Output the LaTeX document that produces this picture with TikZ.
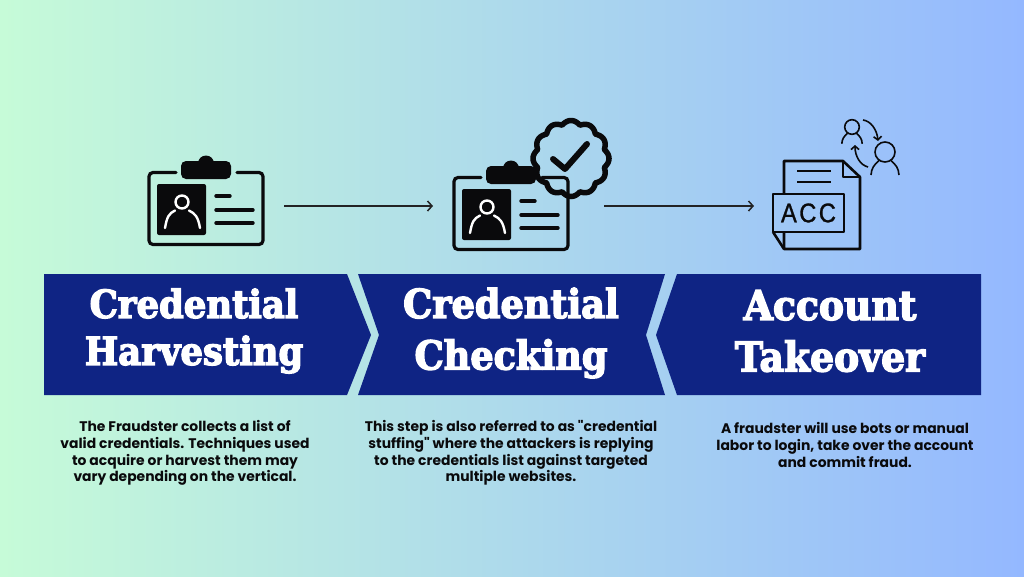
\documentclass[tikz,border=0pt]{standalone}
\usepackage{fontspec}
\setmainfont{Poppins}[Ligatures=TeXOff]
\newfontfamily\headfont{DejaVu Serif}[BoldFeatures={FakeBold=3.5,FakeStretch=0.92}]
\newfontfamily\accfont{Liberation Sans}[FakeStretch=0.88,LetterSpace=9,FakeBold=1]
\usetikzlibrary{arrows.meta}
\definecolor{bgleft}{RGB}{198,251,216}
\definecolor{bgmid}{RGB}{176,222,230}
\definecolor{bgright}{RGB}{148,184,255}
\definecolor{bannerblue}{RGB}{15,36,132}
\definecolor{inkblack}{RGB}{10,10,12}
\tikzset{
	banner/.style={fill=bannerblue,draw=none},
	headtext/.style={text=white,align=center,font=\headfont\bfseries\fontsize{#1}{47}\selectfont},
	bodytext/.style={text=inkblack,align=center,font=\bfseries\fontsize{13.9}{16.7}\selectfont},
	flow/.style={-{Straight Barb[length=4.5pt,width=10pt]},line width=1.5pt,draw=inkblack!90},
	idcard/.pic={
		\draw[line width=3.2pt,rounded corners=4pt,line cap=round] (-30,-36) -- (-57,-36) -- (-57,36) -- (57,36) -- (57,-36) -- (31,-36);
		\fill[rounded corners=5pt] (-25,-47.5) rectangle (25,-29.5);
		\fill (0,-45) circle [radius=8];
		\fill[rounded corners=2pt] (-49,-24.5) rectangle (0,26.5);
		\draw[white,line width=2.4pt] (-24,-6.5) circle [radius=6.5];
		\draw[white,line width=2.4pt,line cap=round] (-41,19.5) .. controls (-39,8) and (-37,5) .. (-31,2) (-17,2) .. controls (-11,5) and (-8,8) .. (-6,19.5);
		\draw[line width=3.4pt,line cap=round] (10,-12.5) -- (24,-12.5) (10,1.5) -- (47,1.5) (10,14.5) -- (47,14.5);
	},
	userfig/.pic={
		\draw[line width=1.6pt] (0,0) circle [radius=#1];
		\draw[line width=1.6pt] (-1.4*#1,2.3*#1) .. controls (-1.35*#1,1.6*#1) and (-1.1*#1,1.3*#1) .. (-.6*#1,.85*#1) (.6*#1,.85*#1) .. controls (1.1*#1,1.3*#1) and (1.35*#1,1.6*#1) .. (1.4*#1,2.3*#1);
	},
}

\begin{document}
\begin{tikzpicture}[x=1pt,y=-1pt]
		\useasboundingbox (0,0) rectangle (1024,576);
		\shade[left color=bgleft,middle color=bgmid,right color=bgright] (0,0) rectangle (1024,576);
		% banners
		\fill[banner] (44,274) -- (347,274) -- (371,335) -- (347,395) -- (44,395) -- cycle;
		\fill[banner] (358,274) -- (665,274) -- (646,335) -- (665,395) -- (358,395) -- (379,335) -- cycle;
		\fill[banner] (677,274) -- (981,274) -- (981,395) -- (677,395) -- (656,335) -- cycle;
		\node[headtext=38.5] (harvesthead) at (194,331) {Credential\\Harvesting};
		\node[headtext=39.8] (checkhead) at (511,333) {Credential\\[4.5pt]Checking};
		\node[headtext=41] (takeoverhead) at (830,331) {Account\\[4.5pt]Takeover};
		% icons
		\pic[inkblack] at (206,208.5) {idcard};
		\pic[inkblack] at (511,213.5) {idcard};
		\draw[inkblack,line width=5.5pt,line join=round] plot[domain=0:360,samples=361] ({571+(34.5+3.5*abs(cos(6*\x)))*cos(\x)},{158.5+(34.5+3.5*abs(cos(6*\x)))*sin(\x)}) -- cycle;
		\draw[inkblack,line width=6pt,line cap=round,line join=round] (553,159) -- (565,169) -- (587,144);
		% document
		\draw[inkblack,line width=2.6pt,line join=round] (784,193) -- (784,161) -- (843,161) -- (860,177) -- (860,249) -- (784,249) -- (784,232);
		\draw[inkblack,line width=2.6pt,line join=round] (843,161) -- (843,177) -- (860,177);
		\draw[inkblack,line width=2.6pt] (797,171) -- (831,171) (797,182) -- (831,182);
		\draw[inkblack,line width=2.6pt,line join=round] (773,194) rectangle (844,232);
		\draw[inkblack,line width=2.6pt,line join=round] (773,232) -- (784,249);
		\node[text=inkblack,font=\accfont\fontsize{27}{27}\selectfont,inner sep=0pt] (acclabel) at (808.5,213) {ACC};
		\pic[inkblack] at (852,127) {userfig=7.3};
		\pic[inkblack] at (885,152) {userfig=10};
		\draw[inkblack,line width=1.6pt,-{Straight Barb[length=3.5pt,width=8pt]}] (863,120) .. controls (871,121) and (877,130) .. (878,141);
		\draw[inkblack,line width=1.6pt,-{Straight Barb[length=3.5pt,width=8pt]}] (868,167) .. controls (860,165) and (855,156) .. (855,145);
		% arrows between the steps
		\coordinate (flowastart) at (284,206);
		\coordinate (flowaend) at (433,206);
		\coordinate (flowbstart) at (604,206);
		\coordinate (flowbend) at (754,206);
		\draw[flow] (flowastart) -- (flowaend);
		\draw[flow] (flowbstart) -- (flowbend);
		% descriptions
		\node[bodytext] (harvesttext) at (185,453) {The Fraudster collects a list of\\valid credentials. Techniques used\\to acquire or harvest them may\\vary depending on the vertical.};
		\node[bodytext] (checktext) at (511,453) {This step is also referred to as "credential\\stuffing" where the attackers is replying\\to the credentials list against targeted\\multiple websites.};
		\node[bodytext] (takeovertext) at (845,445) {A fraudster will use bots or manual\\labor to login, take over the account\\and commit fraud.};
\end{tikzpicture}
\end{document}
